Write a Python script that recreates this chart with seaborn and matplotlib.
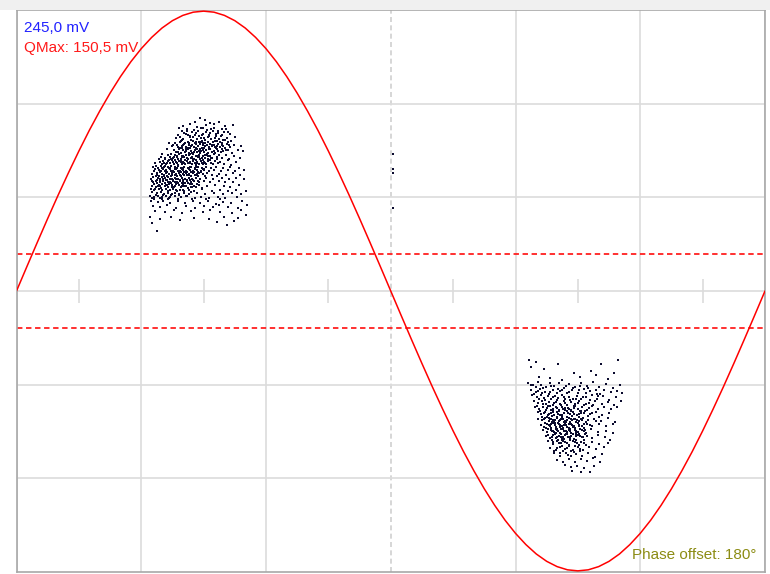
import numpy as np
import pandas as pd
import matplotlib
matplotlib.use("Agg")
import matplotlib.pyplot as plt
import seaborn as sns

# ---------------- data ----------------
# reference sine (mV) sampled every 5 degrees of phase
sine_phase = list(range(0, 361, 5))
sine_mv = [0, 21.3, 42.4, 63.2, 83.5, 103.1, 122.0, 140.0, 156.8, 172.5, 186.9, 199.9, 211.3, 221.1, 229.3, 235.7, 240.3, 243.1, 244.0,
           243.1, 240.3, 235.7, 229.3, 221.1, 211.3, 199.9, 186.9, 172.5, 156.8, 140.0, 122.0, 103.1, 83.5, 63.2, 42.4, 21.3, 0,
           -21.3, -42.4, -63.2, -83.5, -103.1, -122.0, -140.0, -156.8, -172.5, -186.9, -199.9, -211.3, -221.1, -229.3, -235.7, -240.3, -243.1, -244.0,
           -243.1, -240.3, -235.7, -229.3, -221.1, -211.3, -199.9, -186.9, -172.5, -156.8, -140.0, -122.0, -103.1, -83.5, -63.2, -42.4, -21.3, 0]

threshold_mv = 32.0
scale_mv = 245.0
qmax_mv = 150.5
phase_offset = 180

# positive-half discharge cluster (phase deg, mV)
cluster_pos = [
    (88.2,150.5),(90.5,148.9),(85.7,147.6),(92.9,146.8),(83.4,145.9),(95.1,145.3),(97.6,147.2),(100.4,143.6),(80.3,143.9),(86.9,143.1),
    (89.8,142.4),(93.6,141.5),(98.8,141.0),(104.0,145.1),(82.1,141.2),(91.3,144.6),
    (79.6,139.4),(84.2,138.8),(87.5,139.6),(91.0,138.3),(94.4,139.1),(96.9,137.6),(99.9,138.7),(102.6,136.9),(77.8,136.2),(81.5,136.8),
    (85.9,136.1),(89.2,135.7),(92.6,136.4),(95.8,134.9),(98.3,135.5),(101.1,133.8),(105.2,134.6),(76.5,133.1),(80.1,132.7),(83.3,133.9),
    (86.8,132.3),(88.9,133.4),(90.7,131.8),(93.5,132.9),(96.2,131.2),(99.4,131.9),(103.3,130.6),(78.9,130.4),(82.6,130.1),(85.1,130.9),
    (87.9,130.2),(94.7,130.3),(97.7,129.9),(91.9,134.2),
    (73.4,129.1),(76.2,128.7),(78.4,129.5),(80.7,128.2),(82.9,128.9),(84.6,127.6),(86.3,128.4),(88.1,127.9),(89.9,128.8),(91.6,127.3),
    (93.2,128.1),(95.0,127.5),(96.8,128.6),(98.7,127.0),(101.2,128.3),(104.6,127.7),(107.8,126.4),(74.9,126.1),(77.5,125.8),(79.8,126.5),
    (81.7,125.2),(83.8,126.8),(85.5,125.5),(87.2,126.2),(89.0,125.0),(90.8,126.0),(92.4,125.3),(94.1,126.6),(96.0,124.9),(97.9,125.7),
    (100.1,124.6),(102.9,125.4),(72.6,123.5),(75.7,123.0),(78.0,123.8),(80.2,122.7),(82.3,123.6),(84.0,122.4),(85.9,123.3),(87.7,122.1),
    (89.5,123.1),(91.2,122.5),(93.0,123.7),(94.8,122.2),(96.5,123.4),(99.2,122.0),(101.9,123.2),(106.3,122.8),(76.8,121.0),(79.1,120.4),
    (81.0,121.3),(83.1,120.6),(86.6,120.9),(88.4,120.2),(90.2,121.5),(92.0,120.7),(95.6,120.3),(98.2,120.9),(103.7,120.5),(108.9,121.8),
    (70.1,119.4),(72.8,118.9),(74.5,119.6),(76.3,118.4),(78.1,119.2),(79.7,118.0),(81.4,119.0),(83.0,118.3),(84.7,119.4),(86.4,118.1),
    (88.0,118.8),(89.7,117.9),(91.4,118.6),(93.1,117.7),(94.9,119.1),(97.3,118.2),(100.6,118.7),(104.5,117.5),(69.3,116.6),(71.6,116.1),
    (73.7,116.8),(75.4,115.7),(77.2,116.4),(78.9,115.5),(80.6,116.9),(82.2,115.8),(83.9,116.3),(85.6,115.2),(87.3,116.5),(89.0,115.6),
    (90.6,116.2),(92.3,115.0),(94.0,116.0),(96.2,115.4),(99.0,116.3),(102.3,115.1),(107.4,116.0),(70.7,113.6),(72.9,113.1),(74.8,113.9),
    (76.6,112.8),(78.3,113.6),(80.0,112.5),(81.8,113.4),(83.5,112.2),(85.1,113.2),(86.8,112.4),(88.6,113.7),(90.3,112.6),(92.0,113.3),
    (93.7,112.0),(95.6,113.5),(98.1,112.7),(101.5,113.8),(105.8,112.3),(69.8,110.9),(72.1,110.4),(75.9,110.7),(77.7,110.1),(79.4,111.0),
    (81.2,110.3),(84.4,110.8),(86.1,110.2),(87.8,111.1),(89.5,110.5),(91.2,110.9),(94.5,110.4),(97.0,111.2),(100.0,110.6),(103.4,110.1),
    (67.2,109.4),(69.5,108.7),(71.3,109.2),(72.9,108.0),(74.5,108.9),(76.0,107.8),(77.6,108.6),(79.2,107.5),(80.8,108.4),(82.4,107.3),
    (84.0,108.2),(85.7,107.1),(87.4,108.5),(89.2,107.4),(91.0,108.1),(93.4,107.6),(96.1,108.3),(99.3,107.2),(102.8,108.0),(106.9,107.4),
    (66.5,106.1),(68.6,105.6),(70.4,106.4),(72.1,105.3),(73.7,106.2),(75.3,105.0),(76.9,106.0),(78.5,104.9),(80.1,105.8),(81.7,104.7),
    (83.3,105.7),(85.0,104.5),(86.7,105.5),(88.5,104.6),(90.3,105.9),(92.4,104.8),(95.2,105.4),(98.4,104.3),(101.6,105.6),(104.9,104.7),
    (109.6,105.2),(67.8,103.0),(69.9,102.4),(71.7,103.3),(73.4,102.1),(75.0,103.0),(76.6,101.9),(78.2,102.8),(79.9,101.7),(81.5,102.7),
    (83.1,101.5),(84.8,102.5),(86.4,101.3),(88.0,102.6),(89.8,101.6),(91.7,102.9),(94.2,101.4),(97.5,102.2),(100.8,101.1),(103.9,102.5),
    (66.9,100.4),(70.8,100.1),(74.2,100.6),(77.3,100.2),(80.6,100.8),(83.7,100.3),(87.1,100.7),(90.9,100.2),(96.3,100.5),(107.6,101.3),
    (65.8,99.2),(68.1,98.6),(69.8,99.5),(71.5,98.3),(73.1,99.1),(74.7,98.0),(76.3,98.9),(77.9,97.8),(79.5,98.7),(81.1,97.6),
    (82.8,98.5),(84.5,97.4),(86.3,98.4),(88.4,97.7),(91.2,98.8),(94.6,97.5),(98.9,98.2),(102.4,97.3),(105.7,98.6),(109.3,97.9),
    (65.1,96.3),(67.3,95.8),(69.1,96.6),(70.7,95.5),(72.3,96.4),(73.9,95.2),(75.5,96.1),(77.1,95.0),(78.7,96.0),(80.3,94.8),
    (82.0,95.7),(83.8,94.6),(85.6,95.6),(87.7,94.9),(90.1,96.0),(93.3,95.1),(97.2,95.8),(100.3,94.7),(104.1,95.4),(66.2,93.4),
    (68.4,92.8),(70.1,93.7),(71.8,92.5),(73.4,93.3),(75.0,92.2),(76.7,93.1),(78.3,92.0),(80.0,93.0),(81.7,91.9),(83.5,92.9),
    (85.4,91.8),(88.0,92.6),(91.5,91.7),(95.4,92.3),(99.6,91.5),(107.1,92.8),(67.0,90.6),(69.5,90.2),(72.7,90.9),(75.8,90.3),
    (78.9,90.7),(82.4,90.1),(86.2,90.5),(89.3,90.0),(102.8,90.4),
    (64.6,89.3),(66.7,88.6),(68.5,89.1),(70.2,87.9),(71.9,88.8),(73.6,87.7),(75.3,88.5),(77.0,87.5),(78.8,88.4),(80.7,87.3),
    (82.9,88.2),(85.6,87.6),(89.4,88.7),(93.8,87.4),(97.9,88.1),(101.7,87.2),(105.4,88.0),(110.2,87.6),(65.4,85.9),(67.5,85.2),
    (69.3,86.1),(71.1,84.9),(72.8,85.8),(74.6,84.7),(76.4,85.6),(78.3,84.5),(80.4,85.5),(83.2,84.8),(86.9,85.7),(90.6,84.6),
    (95.0,85.3),(99.1,84.4),(103.6,85.1),(107.9,84.2),(64.3,82.8),(66.3,82.3),(68.2,83.0),(70.0,81.9),(72.0,82.7),(74.0,81.7),
    (76.2,82.6),(79.0,81.6),(82.1,82.4),(85.8,81.5),(88.9,82.2),(92.4,81.4),(96.7,82.0),(100.5,81.2),(106.2,81.9),(65.9,80.4),
    (69.8,80.1),(73.1,80.6),(77.5,80.2),(84.3,80.5),(91.0,80.3),(97.8,80.0),
    (64.8,78.6),(67.9,77.2),(70.6,78.9),(73.8,76.5),(77.6,78.1),(80.9,76.9),(84.7,78.4),(88.2,77.0),(92.1,78.7),(95.8,76.2),
    (99.4,77.8),(103.1,76.6),(108.5,78.3),(111.0,75.4),(65.6,74.3),(69.0,73.1),(72.4,74.8),(76.9,72.6),(81.6,73.9),(86.0,72.4),
    (90.4,74.1),(94.4,72.9),(97.3,74.6),(101.9,73.3),(106.4,72.0),(66.4,69.8),(71.2,68.6),(75.7,70.3),(79.8,68.1),(83.9,69.5),
    (89.6,68.9),(93.0,70.7),(98.0,69.2),(103.8,67.8),(108.1,70.4),
    (64.4,64.9),(68.8,63.1),(74.4,64.2),(78.6,62.0),(85.3,63.7),(92.6,62.4),(99.8,64.5),(104.7,61.3),(101.2,57.9),(96.2,60.2),
    (65.3,59.6),(67.6,52.2),(106.7,63.8),(110.5,66.2),
    (75.1,127.2),(79.4,124.3),(83.6,124.9),(87.0,124.0),(90.0,124.4),(81.3,121.9),(85.2,121.4),(88.9,121.8),(93.8,121.2),(77.4,117.3),
    (80.3,117.4),(84.2,117.0),(87.9,117.2),(91.9,117.4),(73.3,114.6),(76.1,114.3),(79.3,114.1),(82.7,114.7),(86.1,114.0),(89.7,114.4),
    (93.3,114.5),(71.0,111.9),(74.0,111.6),(77.0,111.8),(80.4,111.7),(83.4,111.5),(86.9,111.9),(90.5,111.6),(70.0,107.0),(73.2,106.9),
    (76.4,106.8),(79.7,106.6),(82.9,106.5),(86.0,106.8),(89.7,106.7),(68.9,104.0),(72.6,103.8),(75.8,103.9),(79.0,103.6),(82.2,103.9),
    (85.4,103.4),(88.8,103.8),(67.6,101.1),(71.0,101.5),(74.9,101.2),(78.4,101.0),(82.0,101.3),(85.9,100.9),(68.8,97.4),(72.0,97.2),
    (75.2,97.1),(78.4,97.0),(81.9,96.9),(85.0,96.7),(67.7,94.4),(71.2,94.2),(74.4,94.1),(77.8,94.0),(81.2,93.9),(84.6,93.7),
    (68.0,91.3),(71.6,91.4),(74.9,91.1),(79.6,91.2),(83.8,91.0),
    # dense core, upper part
    (78.3,141.7),(81.9,139.9),(85.2,140.6),(88.6,141.8),(91.8,140.2),(94.9,142.3),(97.1,139.2),(100.6,140.9),(80.7,137.9),(83.6,135.3),
    (86.2,137.5),(89.9,137.0),(93.1,137.9),(96.0,136.7),(99.0,136.0),(101.8,138.3),(78.6,134.6),(82.4,135.9),(84.9,134.1),(87.7,134.9),
    (90.3,133.2),(92.8,134.8),(95.3,133.5),(97.5,132.4),(100.3,132.0),(79.8,131.3),(81.0,129.4),(84.1,131.7),(86.5,129.8),(89.4,130.8),
    (92.1,129.5),(95.7,130.8),(98.6,129.1),(101.9,130.1),(77.1,127.4),(80.0,127.6),(83.1,127.1),(85.7,129.1),(88.6,129.6),(90.9,128.9),
    (93.9,127.0),(96.4,126.8),(99.4,126.2),(102.2,127.0),(78.7,124.5),(82.6,125.0),(86.1,124.6),(89.5,126.9),(92.7,124.2),(95.4,125.9),
    (98.6,123.8),(100.9,122.7),(77.9,121.6),(81.6,123.9),(84.6,120.1),(88.1,123.6),(91.5,119.8),(94.2,120.8),(97.1,121.7),(79.4,116.6),
    (83.3,119.6),(86.9,117.6),(90.7,118.2),(93.7,115.6),(96.6,116.9),(75.8,117.0),
    # dense core, lower part
    (68.3,114.8),(71.3,115.0),(74.1,115.3),(77.8,114.9),(81.1,114.4),(84.8,114.9),(88.1,115.0),(66.4,112.0),(69.2,112.3),(72.4,111.9),
    (75.3,112.2),(78.9,112.1),(82.4,111.9),(85.7,112.0),(89.0,111.4),(65.6,108.1),(68.1,107.5),(70.9,107.9),(73.9,107.3),(77.1,107.2),
    (80.3,106.9),(83.6,107.7),(86.5,107.8),(90.0,106.3),(66.0,104.4),(69.4,104.3),(71.3,104.8),(74.3,104.4),(77.6,104.2),(80.8,104.1),
    (84.1,103.9),(87.3,104.1),(65.2,101.9),(68.4,100.7),(72.3,100.6),(76.0,100.9),(79.3,100.5),(82.8,101.9),(86.8,102.1),(64.9,97.9),
    (67.5,97.1),(70.4,97.7),(73.6,97.6),(76.9,97.4),(80.1,96.8),(83.4,96.5),(87.1,96.3),(65.8,94.6),(68.9,94.9),(72.9,94.8),
    (76.0,94.7),(79.4,94.3),(82.7,94.1),(86.6,93.4),(65.3,91.8),(69.0,91.6),(72.2,92.1),(76.2,91.7),(80.4,91.5),(84.3,90.9),
    (66.1,88.1),(69.9,88.3),(73.0,87.5),(76.6,88.2),(80.0,88.0),(83.7,86.6),(67.0,84.1),(70.6,83.6),(74.2,84.0),(78.1,83.4),
    (81.3,83.2),(65.0,81.5),(69.2,81.2),(73.3,81.0),
]

# negative-half discharge cluster (phase deg, mV)
cluster_neg = [
    (246.5,-59.8),(250.1,-61.9),(247.3,-66.5),(253.9,-68.1),(260.4,-63.7),(268.0,-71.2),(281.0,-64.0),(289.2,-60.5),(278.9,-73.6),(251.2,-74.8),
    (256.7,-76.2),(262.6,-77.5),(270.9,-75.3),(284.7,-76.9),(287.4,-71.9),(276.2,-69.4),
    (246.2,-80.6),(248.4,-82.3),(250.6,-79.4),(252.5,-81.7),(254.8,-83.9),(256.4,-80.1),(258.7,-82.8),(261.0,-79.9),(263.3,-84.2),(265.9,-81.3),
    (268.4,-83.5),(271.6,-80.4),(274.3,-82.9),(277.5,-79.6),(280.2,-83.7),(283.6,-81.0),(286.9,-84.6),(290.4,-82.2),(247.5,-86.1),(249.8,-88.4),
    (251.9,-85.5),(254.0,-87.8),(255.9,-89.6),(257.8,-86.3),(260.1,-88.9),(262.2,-85.9),(264.6,-89.2),(267.1,-86.7),(269.9,-88.6),(272.8,-85.4),
    (276.0,-87.3),(279.1,-89.5),(282.5,-86.0),(285.8,-88.1),(288.6,-86.8),(291.1,-89.1),
    (248.0,-90.7),(250.2,-92.4),(252.1,-90.9),(253.8,-93.6),(255.5,-91.3),(257.2,-94.0),(258.9,-91.7),(260.6,-93.3),(262.3,-90.6),(264.0,-94.2),
    (265.8,-92.0),(267.6,-93.8),(269.5,-91.2),(271.7,-94.5),(274.0,-92.3),(276.6,-90.8),(279.4,-93.9),(282.3,-91.6),(285.2,-94.7),(288.3,-92.5),
    (290.6,-95.8),(249.1,-95.9),(251.0,-97.7),(252.9,-96.2),(254.6,-98.8),(256.3,-96.5),(258.0,-99.1),(259.7,-96.8),(261.4,-98.4),(263.1,-95.6),
    (264.9,-99.3),(266.7,-97.1),(268.6,-98.9),(270.6,-96.3),(272.9,-99.5),(275.4,-97.4),(278.2,-95.5),(281.4,-98.2),(284.5,-96.6),(287.6,-99.7),
    (250.3,-99.9),
    (249.6,-100.8),(251.5,-102.6),(253.2,-101.1),(254.8,-103.4),(256.4,-100.6),(257.9,-102.9),(259.4,-101.3),(260.9,-103.7),(262.4,-100.9),(263.9,-102.4),
    (265.4,-101.6),(266.9,-103.9),(268.5,-100.7),(270.2,-102.8),(272.1,-101.4),(274.3,-103.6),(276.8,-100.5),(279.6,-102.7),(282.7,-101.2),(286.1,-103.1),
    (288.9,-100.9),(250.7,-105.8),(252.4,-107.5),(254.0,-105.2),(255.6,-108.1),(257.1,-106.0),(258.6,-107.9),(260.1,-105.4),(261.6,-108.3),(263.1,-106.4),
    (264.6,-104.9),(266.1,-107.2),(267.7,-105.6),(269.4,-108.5),(271.3,-106.1),(273.5,-104.8),(275.9,-107.4),(278.7,-105.3),(281.8,-108.0),(285.0,-106.2),
    (252.9,-109.6),(255.2,-109.9),(257.6,-109.3),(260.0,-109.8),(262.3,-109.5),(264.9,-109.7),(267.3,-109.2),(270.4,-109.9),(274.7,-109.4),(280.1,-109.6),
    (250.9,-111.2),(252.8,-112.9),(254.4,-110.6),(255.9,-113.5),(257.3,-111.4),(258.7,-113.8),(260.1,-110.9),(261.5,-112.6),(262.9,-111.7),(264.3,-114.0),
    (265.7,-110.8),(267.2,-112.9),(268.8,-111.3),(270.6,-113.6),(272.7,-110.7),(275.1,-112.8),(277.8,-111.5),(281.2,-113.3),(284.6,-111.0),(287.8,-113.9),
    (252.1,-116.4),(253.7,-118.2),(255.2,-115.7),(256.6,-117.9),(258.0,-115.3),(259.4,-118.4),(260.8,-116.1),(262.2,-117.6),(263.6,-115.5),(265.0,-118.6),
    (266.5,-116.3),(268.1,-117.8),(269.9,-115.1),(271.9,-117.4),(274.2,-116.0),(276.9,-118.1),(280.0,-115.8),(283.5,-117.5),(286.7,-116.2),(254.6,-119.8),
    (257.0,-119.5),(259.9,-119.9),(262.7,-119.3),(265.6,-119.7),(268.6,-119.4),(272.8,-119.8),
    (253.4,-121.3),(255.3,-123.1),(257.0,-120.8),(258.5,-122.9),(259.9,-121.5),(261.3,-123.6),(262.7,-120.7),(264.1,-122.4),(265.5,-121.2),(266.9,-123.8),
    (268.4,-120.9),(270.1,-122.7),(271.9,-121.6),(274.0,-123.4),(276.5,-120.6),(279.6,-122.5),(283.4,-121.8),(287.0,-123.5),(254.5,-126.8),(256.4,-128.4),
    (258.1,-125.6),(259.6,-127.9),(261.0,-126.2),(262.4,-128.6),(263.8,-125.9),(265.2,-127.5),(266.7,-126.5),(268.3,-128.8),(270.0,-125.7),(271.9,-127.7),
    (274.2,-126.3),(276.8,-128.1),(279.9,-125.4),(283.0,-127.2),(285.6,-129.5),(257.5,-129.7),(260.4,-129.9),(263.1,-129.4),(266.0,-129.8),(269.3,-129.6),
    (272.8,-129.9),
    (255.4,-131.2),(257.9,-133.5),(260.2,-130.9),(262.1,-132.8),(263.9,-131.4),(265.7,-133.9),(267.5,-130.8),(269.4,-132.6),(271.6,-131.7),(274.1,-134.0),
    (276.9,-131.3),(280.3,-133.2),(284.4,-132.5),(256.7,-137.1),(259.3,-138.6),(261.6,-135.8),(263.6,-137.9),(265.6,-135.5),(267.7,-138.2),(269.9,-136.3),
    (272.4,-138.8),(275.3,-135.9),(278.7,-137.6),(282.6,-136.4),(258.4,-139.8),(262.9,-139.6),(266.8,-139.9),(271.0,-139.5),
    (258.6,-141.5),(261.4,-143.8),(264.2,-141.1),(266.6,-144.2),(269.1,-141.9),(271.8,-143.5),(274.9,-141.4),(278.4,-144.6),(281.6,-142.3),(260.0,-147.2),
    (263.0,-148.9),(265.9,-146.3),(268.7,-149.1),(271.5,-146.8),(274.4,-148.5),(277.3,-146.0),(280.5,-148.7),
    (263.6,-151.5),(266.9,-153.8),(269.6,-152.2),(272.9,-154.0),(267.2,-156.9),(271.3,-157.4),(275.8,-158.1),(277.9,-152.7),
    (258.2,-104.6),(261.1,-104.3),(264.0,-104.1),(266.9,-104.5),(270.8,-104.2),(256.8,-111.9),(259.0,-112.2),(261.9,-111.8),(264.8,-112.3),(267.9,-111.6),
    (271.3,-112.0),(257.6,-114.4),(260.4,-114.7),(263.2,-114.2),(266.0,-114.6),(269.2,-114.3),(256.0,-117.0),(258.8,-116.8),(261.6,-116.9),(264.4,-116.7),
    (267.3,-116.6),(270.6,-116.9),(257.8,-121.9),(260.6,-122.1),(263.4,-121.8),(266.2,-122.2),(269.2,-121.7),(273.0,-122.3),(258.9,-124.5),(261.7,-124.7),
    (264.6,-124.4),(267.5,-124.6),(270.5,-124.3),(260.2,-127.0),(263.0,-126.9),(266.0,-127.2),(269.0,-126.8),(272.6,-127.1),(262.6,-130.3),
    # dense core extras
    (249.7,-83.4),(253.3,-84.9),(256.9,-83.0),(260.6,-85.1),(264.1,-82.9),(267.8,-84.6),(271.2,-82.7),(275.0,-84.3),(278.6,-86.2),(248.9,-89.9),
    (252.6,-89.2),(256.7,-88.0),(261.4,-87.3),(265.8,-87.9),(270.5,-86.4),(274.1,-88.7),(280.8,-90.2),(251.3,-94.3),(254.4,-95.1),(257.9,-92.6),
    (260.0,-95.4),(263.5,-92.3),(266.3,-95.0),(269.0,-93.9),(272.6,-92.7),(276.0,-94.6),(279.7,-91.2),(253.0,-98.5),(255.7,-100.0),(258.6,-97.9),
    (261.9,-99.6),(264.0,-97.3),(267.9,-99.9),(270.0,-97.8),(273.8,-98.1),(277.3,-99.2),(252.0,-104.5),(255.3,-102.0),(257.1,-103.8),(259.8,-102.3),
    (262.9,-103.2),(265.5,-102.9),(268.0,-102.1),(271.4,-104.4),(275.4,-102.2),(253.6,-106.5),(256.2,-107.0),(258.2,-105.1),(260.6,-106.9),(262.6,-107.8),
    (265.2,-106.1),(268.3,-106.9),(270.6,-107.6),(273.1,-106.4),(277.0,-106.6),(253.9,-111.9),(256.1,-110.3),(258.0,-112.7),(260.7,-113.4),(263.6,-113.2),
    (266.5,-111.9),(269.4,-112.6),(272.0,-112.1),(274.1,-114.1),(278.5,-113.0),(254.1,-115.0),(256.9,-116.0),(259.1,-115.0),(261.2,-118.7),(263.1,-116.9),
    (265.9,-115.8),(267.6,-118.9),(270.4,-117.9),(273.0,-115.6),(276.0,-116.7),(255.6,-120.2),(257.4,-122.3),(259.3,-120.6),(261.9,-120.6),(264.8,-123.1),
    (266.4,-120.4),(269.0,-123.3),(271.2,-120.1),(273.6,-121.0),(255.8,-125.5),(257.4,-127.1),(259.4,-124.1),(261.9,-127.6),(264.1,-124.8),(266.4,-128.0),
    (268.9,-124.9),(271.0,-126.6),(273.3,-124.9),(258.0,-131.5),(260.9,-132.4),(263.0,-130.6),(265.0,-132.3),(268.4,-131.9),(270.5,-134.2),(272.9,-132.6),
    (259.9,-136.5),(262.6,-134.9),(264.9,-137.1),(268.5,-135.2),(270.8,-137.6),(261.3,-141.0),(265.2,-142.9),(268.0,-140.7),(247.4,-81.9),(250.8,-86.9),
]

# isolated pulses near 180 deg
isolated = [(181.2, 119.6), (181.2, 106.8), (181.2, 103.3), (181.2, 72.4)]

# ---------------- build table ----------------
pts = cluster_pos + cluster_neg + isolated
df_pts = pd.DataFrame(pts, columns=["phase", "mv"])
df_sine = pd.DataFrame({"phase": sine_phase, "mv": sine_mv})

# ---------------- figure ----------------
sns.set_style("white")
plt.rcParams["font.family"] = ["Liberation Sans", "DejaVu Sans"]

W, H = 770, 574
fig = plt.figure(figsize=(W / 100, H / 100), dpi=100, facecolor="white")
# light strip at top
fig.patches.append(plt.Rectangle((0, 1 - 10 / H), 1, 10 / H, transform=fig.transFigure,
                                 facecolor="#f0f0f0", edgecolor="none", zorder=0))
ax = fig.add_axes([16.5 / W, 2 / H, (765 - 16.5) / W, (572 - 10) / H])
ax.set_facecolor("white")

ax.set_xlim(0, 360)
ax.set_ylim(-scale_mv, scale_mv)

# grid
grid_c = "#dcdcdc"
xg = [0, 60, 120, 180, 240, 300, 360]
ax.set_xticks(xg)
ax.set_yticks([-scale_mv * 2 / 3, -scale_mv / 3, 0, scale_mv / 3, scale_mv * 2 / 3])
ax.tick_params(length=0, labelbottom=False, labelleft=False)
ax.grid(True, color=grid_c, linewidth=1.2)
for gl, xv in zip(ax.get_xgridlines(), xg):
    if xv == 180:
        gl.set_linestyle((0, (3, 2)))
        gl.set_color("#cfcfcf")
ax.set_axisbelow(True)
# center-line ticks
ax.vlines([30, 90, 150, 210, 270, 330], -10.5, 10.5, color=grid_c, linewidth=1.2, zorder=0.5)

for sp in ax.spines.values():
    sp.set_color("#a8a8a8")
    sp.set_linewidth(1.2)

# threshold lines
ax.axhline(threshold_mv, color="#ff2020", linewidth=1.3, linestyle=(0, (3, 2)), zorder=2)
ax.axhline(-threshold_mv, color="#ff2020", linewidth=1.3, linestyle=(0, (3, 2)), zorder=2)

# sine
sns.lineplot(data=df_sine, x="phase", y="mv", ax=ax, color="#ff0000", linewidth=1.1,
             estimator=None, sort=False, zorder=3)

# scatter
sns.scatterplot(data=df_pts, x="phase", y="mv", ax=ax, color="#0b0b2e", marker="s",
                s=3.4, linewidth=0, zorder=4, legend=False)

ax.set_xlabel("")
ax.set_ylabel("")

# texts
fig.text(24 / W, 1 - 32.3 / H, f"{scale_mv:.1f} mV".replace(".", ","), fontsize=11, color="#2323ff", va="baseline")
fig.text(24 / W, 1 - 52.3 / H, f"QMax: {qmax_mv:.1f} mV".replace(".", ","), fontsize=11, color="#ff1a1a", va="baseline")
fig.text(756 / W, 1 - 559 / H, f"Phase offset: {phase_offset}°", fontsize=11, color="#8c8c14",
         va="baseline", ha="right")

fig.savefig("out.png", dpi=100, facecolor=fig.get_facecolor())
